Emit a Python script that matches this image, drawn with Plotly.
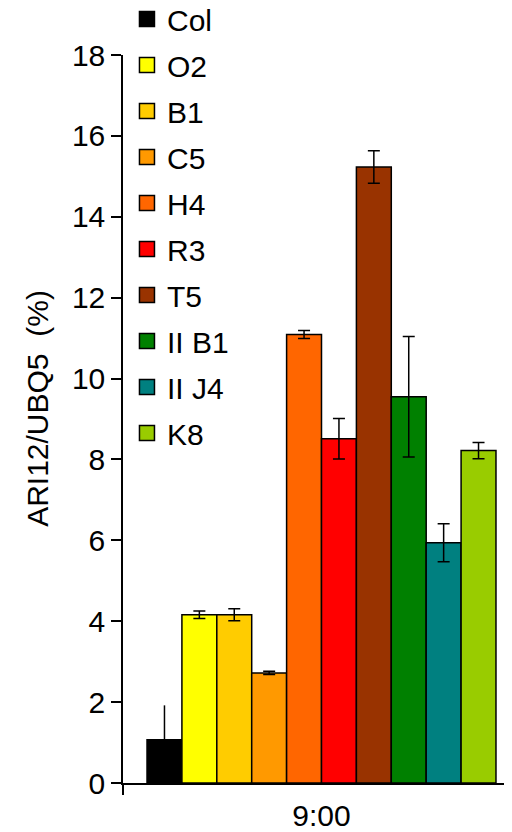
import plotly.graph_objects as go

genotypes = ["Col", "O2", "B1", "C5", "H4", "R3", "T5", "II B1", "II J4", "K8"]
values = [1.07, 4.16, 4.16, 2.72, 11.09, 8.51, 15.23, 9.55, 5.94, 8.22]
errors = [0.85, 0.09, 0.15, 0.04, 0.10, 0.50, 0.40, 1.49, 0.47, 0.20]
colors = ["#000000", "#FFFF00", "#FFCC00", "#FF9900", "#FF6600", "#FF0000",
          "#993300", "#008000", "#008080", "#99CC00"]
timepoint = "9:00"
y_ticks = [0, 2, 4, 6, 8, 10, 12, 14, 16, 18]
y_title = "ARI12/UBQ5 \u00a0(%)"

FONT = "Liberation Sans, Arial, sans-serif"
FS = 30
fig = go.Figure()
for name, v, e, c in zip(genotypes, values, errors, colors):
    fig.add_trace(go.Bar(
        x=[timepoint], y=[v], name=name, marker_color=c,
        marker_line=dict(color="black", width=1.5),
        error_y=dict(type="data", array=[e], visible=True, color="black",
                     thickness=1.5, width=0 if name == "Col" else 6),
        showlegend=False, legendgroup=name))
for name, c in zip(genotypes, colors):
    fig.add_trace(go.Scatter(
        x=[None], y=[None], mode="markers", name=name, legendgroup=name,
        marker=dict(symbol="square", size=15, color=c,
                    line=dict(color="black", width=1.5))))

fig.update_layout(
    width=512, height=832,
    margin=dict(l=115, r=0, t=47, b=57, autoexpand=False),
    plot_bgcolor="white", paper_bgcolor="white",
    barmode="group", bargap=0.121, bargroupgap=0,
    font=dict(family=FONT, size=FS, color="black"),
    showlegend=True,
    legend=dict(x=0.01, y=1.085, xanchor="left", yanchor="top",
                traceorder="grouped", tracegroupgap=4,
                font=dict(size=FS), bgcolor="rgba(0,0,0,0)",
                itemwidth=30, maxheight=1),
    xaxis=dict(type="category", range=[-0.5, 0.5], showline=True,
               linecolor="black", linewidth=1.5, ticks="outside",
               tickson="boundaries", ticklen=10, tickwidth=1.5,
               tickcolor="black", showgrid=False, automargin=False,
               ticklabelstandoff=5, tickfont=dict(size=FS)),
    yaxis=dict(range=[0, 18], tickvals=y_ticks, showline=True,
               linecolor="black", linewidth=1.5, ticks="outside",
               ticklen=10, tickwidth=1.5, tickcolor="black",
               showgrid=False, zeroline=False, tickfont=dict(size=FS),
               automargin=False),
    annotations=[dict(text=y_title, xref="paper", yref="paper",
                      x=-0.214, y=0.514, xanchor="center", yanchor="middle",
                      textangle=-90, showarrow=False,
                      font=dict(size=FS, family=FONT, color="black"))],
)
fig.write_html("out.html")
